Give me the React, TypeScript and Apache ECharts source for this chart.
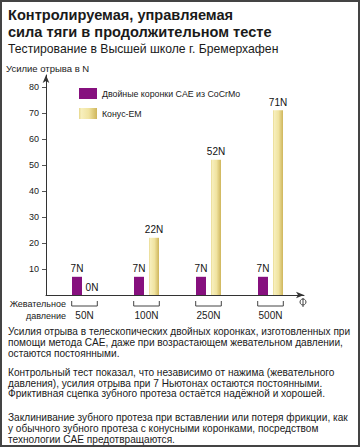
import React, { useEffect, useRef } from "react";
import * as echarts from "echarts";

const categories = ["50N", "100N", "250N", "500N"];
const cocrmoValues = [7, 7, 7, 7];
const konusValues = [0, 22, 52, 71];
const yTickValues = [10, 20, 30, 40, 50, 60, 70, 80];
const seriesNames = ["Двойные коронки CAE из CoCrMo", "Конус-ЕМ"];

const titleLines = "Контролируемая, управляемая\nсила тяги в продолжительном тесте";
const subtitle = "Тестирование в Высшей школе г. Бремерхафен";
const yAxisTitle = "Усилие отрыва в N";
const xAxisTitle = "Жевательное\nдавление";
const paragraph1 =
  "Усилия отрыва в телескопических двойных коронках, изготовленных при\nпомощи метода CAE, даже при возрастающем жевательном давлении,\nостаются постоянными.";
const paragraph2 =
  "Контрольный тест показал, что независимо от нажима (жевательного\nдавления), усилия отрыва при 7 Ньютонах остаются постоянными.\nФриктивная сцепка зубного протеза остаётся надёжной и хорошей.";
const paragraph3 =
  "Заклинивание зубного протеза при вставлении или потеря фрикции, как\nу обычного зубного протеза с конусными коронками, посредством\nтехнологии CAE предотвращаются.";

const FONT = "'Liberation Sans', Arial, Helvetica, sans-serif";
const TEXT = "#1a1a1a";
const PURPLE = "#86107e";
const YELLOW = new echarts.graphic.LinearGradient(0, 0, 1, 0, [
  { offset: 0, color: "#e6d68a" },
  { offset: 0.12, color: "#f7efbd" },
  { offset: 0.55, color: "#f0e3a0" },
  { offset: 1, color: "#cfb65c" },
]);

const Y_MAX = 84.6;

export default function App() {
  const ref = useRef<HTMLDivElement>(null);

  useEffect(() => {
    document.body.style.margin = "0";
    if (!ref.current) return;
    const chart = echarts.init(ref.current, null, { renderer: "svg" });

    const option: any = {
      animation: false,
      backgroundColor: "#ffffff",
      textStyle: { fontFamily: FONT },
      title: {
        left: 8,
        top: 6,
        padding: 0,
        itemGap: 1,
        text: titleLines,
        textStyle: { fontFamily: FONT, fontSize: 14.6, fontWeight: "bold", lineHeight: 17, color: TEXT },
        subtext: subtitle,
        subtextStyle: { fontFamily: FONT, fontSize: 12.2, lineHeight: 15, color: TEXT },
      },
      legend: {
        orient: "vertical",
        left: 79,
        top: 88,
        padding: 0,
        itemWidth: 18,
        itemHeight: 11,
        itemGap: 9,
        data: seriesNames,
        textStyle: { fontFamily: FONT, fontSize: 8.8, color: TEXT, padding: [0, 0, 0, 0] },
        icon: "rect",
      },
      grid: [
        { left: 53.5, right: 58.5, top: 75, bottom: 152 },
        { left: 46, right: 56, top: 75, bottom: 152 },
      ],
      xAxis: [
        {
          type: "category",
          gridIndex: 0,
          data: categories,
          axisLine: { show: false },
          axisTick: { show: false },
          axisLabel: { margin: 15, fontFamily: FONT, fontSize: 10, color: TEXT },
        },
        {
          type: "value",
          gridIndex: 1,
          min: 0,
          max: 1,
          axisLine: {
            show: true,
            lineStyle: { color: "#333", width: 1 },
            symbol: ["none", "arrow"],
            symbolSize: [5, 8],
          },
          axisTick: { show: false },
          axisLabel: { show: false },
          splitLine: { show: false },
        },
      ],
      yAxis: [
        {
          type: "value",
          gridIndex: 0,
          min: 0,
          max: Y_MAX,
          show: false,
          splitLine: { show: false },
        },
        {
          type: "value",
          gridIndex: 1,
          min: 0,
          max: Y_MAX,
          interval: 10,
          axisLine: {
            show: true,
            lineStyle: { color: "#333", width: 1 },
            symbol: ["none", "arrow"],
            symbolSize: [5, 8],
          },
          axisTick: { show: true, length: 4, customValues: yTickValues, lineStyle: { color: "#555" } },
          axisLabel: { customValues: yTickValues, margin: 7, fontFamily: FONT, fontSize: 9, color: TEXT },
          splitLine: { show: false },
        },
      ],
      series: [
        {
          name: seriesNames[0],
          type: "bar",
          xAxisIndex: 0,
          yAxisIndex: 0,
          data: cocrmoValues,
          barWidth: 10,
          barGap: "50%",
          itemStyle: { color: PURPLE },
          label: {
            show: true,
            position: "top",
            distance: 3,
            formatter: "{c}N",
            fontFamily: FONT,
            fontSize: 10,
            color: "#111",
          },
        },
        {
          name: seriesNames[1],
          type: "bar",
          xAxisIndex: 0,
          yAxisIndex: 0,
          data: konusValues,
          barWidth: 10,
          barGap: "50%",
          itemStyle: { color: YELLOW },
          label: {
            show: true,
            position: "top",
            distance: 3,
            formatter: "{c}N",
            fontFamily: FONT,
            fontSize: 10,
            color: "#111",
          },
        },
        {
          type: "custom",
          xAxisIndex: 0,
          yAxisIndex: 0,
          silent: true,
          clip: false,
          data: categories.map((_, i) => [i, 0]),
          renderItem: (params: any, api: any) => {
            const p = api.coord([api.value(0), 0]);
            const half = 12.8;
            const x0 = p[0] - half;
            const x1 = p[0] + half;
            return {
              type: "polyline",
              shape: {
                points: [
                  [x0, p[1] + 6],
                  [x0, p[1] + 11],
                  [x1, p[1] + 11],
                  [x1, p[1] + 6],
                ],
              },
              style: { stroke: "#444", lineWidth: 1, fill: "none" },
            };
          },
        },
      ],
      graphic: [
        {
          type: "rect",
          shape: { x: 1, y: 1, width: 358, height: 445 },
          style: { stroke: "#444", lineWidth: 2, fill: "none" },
          silent: true,
        },
        {
          type: "text",
          x: 6,
          y: 63,
          style: { text: yAxisTitle, font: `9.5px ${FONT}`, fill: TEXT },
        },
        {
          type: "text",
          x: 66,
          y: 298,
          style: { text: xAxisTitle, font: `9px ${FONT}`, fill: TEXT, align: "right", lineHeight: 12 },
        },
        {
          type: "circle",
          shape: { cx: 303, cy: 302, r: 3 },
          style: { stroke: "#444", lineWidth: 1, fill: "none" },
        },
        {
          type: "line",
          shape: { x1: 303, y1: 298, x2: 303, y2: 307 },
          style: { stroke: "#444", lineWidth: 1 },
        },
        {
          type: "text",
          x: 8,
          y: 326.6,
          style: { text: paragraph1, font: `10.1px ${FONT}`, fill: TEXT, lineHeight: 10.7 },
        },
        {
          type: "text",
          x: 8,
          y: 367,
          style: { text: paragraph2, font: `10.1px ${FONT}`, fill: TEXT, lineHeight: 10.7 },
        },
        {
          type: "text",
          x: 8,
          y: 412.6,
          style: { text: paragraph3, font: `10.1px ${FONT}`, fill: TEXT, lineHeight: 10.7 },
        },
      ],
    };

    chart.setOption(option);
    return () => chart.dispose();
  }, []);

  return <div ref={ref} style={{ width: 360, height: 447 }} />;
}
